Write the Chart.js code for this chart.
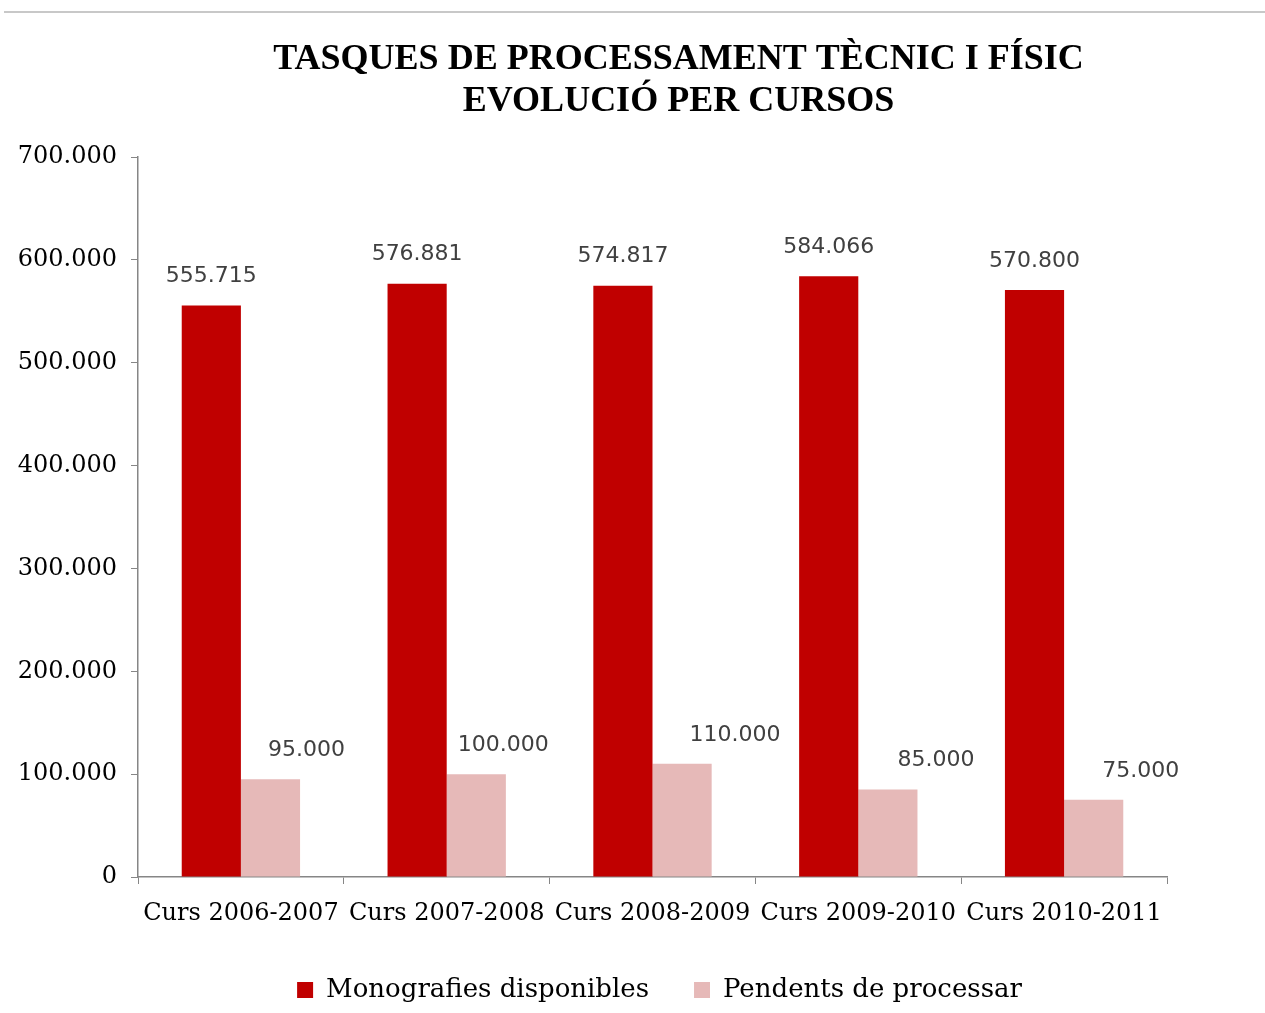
<!DOCTYPE html>
<html>
<head>
<meta charset="utf-8">
<script src="https://cdn.jsdelivr.net/npm/chart.js@4/dist/chart.umd.min.js"></script>
<style>
html,body{margin:0;padding:0;background:#fff;}
canvas{display:block;}
</style>
</head>
<body>
<canvas id="c" width="1265" height="1013"></canvas>
<script>
const categories = ['Curs 2006-2007','Curs 2007-2008','Curs 2008-2009','Curs 2009-2010','Curs 2010-2011'];
const monografies = [555715, 576881, 574817, 584066, 570800];
const pendents = [95000, 100000, 110000, 85000, 75000];
const seriesNames = ['Monografies disponibles','Pendents de processar'];
const titleLines = ['TASQUES DE PROCESSAMENT TÈCNIC I FÍSIC','EVOLUCIÓ PER CURSOS'];
const yTicks = [0,100000,200000,300000,400000,500000,600000,700000];

// label horizontal shifts (style only)
const labelShiftX = [[0,0,0,0,0],[36,27,53,48,47]];

function fmt(v){ return v === 0 ? '0' : String(v).replace(/\B(?=(\d{3})+(?!\d))/g,'.'); }

const topLine = {
  id:'topLine',
  beforeDraw(chart){
    const ctx = chart.ctx;
    ctx.save();
    ctx.fillStyle='#fff';
    ctx.fillRect(0,0,chart.width,chart.height);
    ctx.strokeStyle='#c8c8c8';
    ctx.lineWidth=2;
    ctx.beginPath();
    ctx.moveTo(4,12); ctx.lineTo(chart.width,12);
    ctx.stroke();
    ctx.restore();
  }
};

// shift title and legend horizontally (centred differently from the plot in the original)
const boxShift = {
  id:'boxShift',
  afterLayout(chart){
    const t = chart.titleBlock, l = chart.legend;
    if (t){ t.left += 95; t.right += 95; }
    if (l){ l.left += 76; l.right += 76; }
  }
};

const dataLabels = {
  id:'dataLabels',
  afterDatasetsDraw(chart){
    const ctx = chart.ctx;
    ctx.save();
    ctx.font = '22px "DejaVu Sans"';
    ctx.fillStyle = '#404040';
    ctx.textAlign = 'center';
    ctx.textBaseline = 'middle';
    chart.data.datasets.forEach((ds, di) => {
      const meta = chart.getDatasetMeta(di);
      meta.data.forEach((el, i) => {
        ctx.fillText(fmt(ds.data[i]), el.x + labelShiftX[di][i], el.y - 29);
      });
    });
    ctx.restore();
  }
};

new Chart(document.getElementById('c'), {
  type:'bar',
  data:{
    labels: categories,
    datasets:[
      {label: seriesNames[0], data: monografies, backgroundColor:'#C00000', borderWidth:0},
      {label: seriesNames[1], data: pendents, backgroundColor:'#E6B9B8', borderWidth:0}
    ]
  },
  options:{
    responsive:false,
    animation:false,
    devicePixelRatio:1,
    layout:{padding:{left:0,right:98,top:0,bottom:0}},
    datasets:{bar:{categoryPercentage:0.575, barPercentage:1}},
    plugins:{
      title:{
        display:true,
        text:titleLines,
        color:'#000',
        font:{family:'"Liberation Serif"', size:36, weight:'bold', lineHeight:42/36},
        padding:{top:39,bottom:34}
      },
      legend:{
        display:true,
        position:'bottom',
        labels:{
          color:'#000',
          font:{family:'"DejaVu Serif"', size:26},
          boxWidth:16, boxHeight:16,
          padding:45
        }
      },
      tooltip:{enabled:false}
    },
    scales:{
      x:{
        grid:{display:true, drawOnChartArea:false, offset:true, color:'#868686', tickLength:7},
        border:{color:'#868686', width:1.5},
        ticks:{color:'#000', font:{family:'"DejaVu Serif"', size:24}, padding:15, maxRotation:0, autoSkip:false},
        afterFit(s){ s.height = 55; }
      },
      y:{
        min:0, max:700000,
        afterBuildTicks(s){ s.ticks = yTicks.map(v=>({value:v})); },
        grid:{display:true, drawOnChartArea:false, color:'#868686', tickLength:7},
        border:{color:'#868686', width:1.5},
        ticks:{color:'#000', font:{family:'"DejaVu Serif"', size:24}, padding:14, callback:(v)=>fmt(v)},
        afterFit(s){ s.width = 138; }
      }
    }
  },
  plugins:[topLine, boxShift, dataLabels]
});
</script>
</body>
</html>
